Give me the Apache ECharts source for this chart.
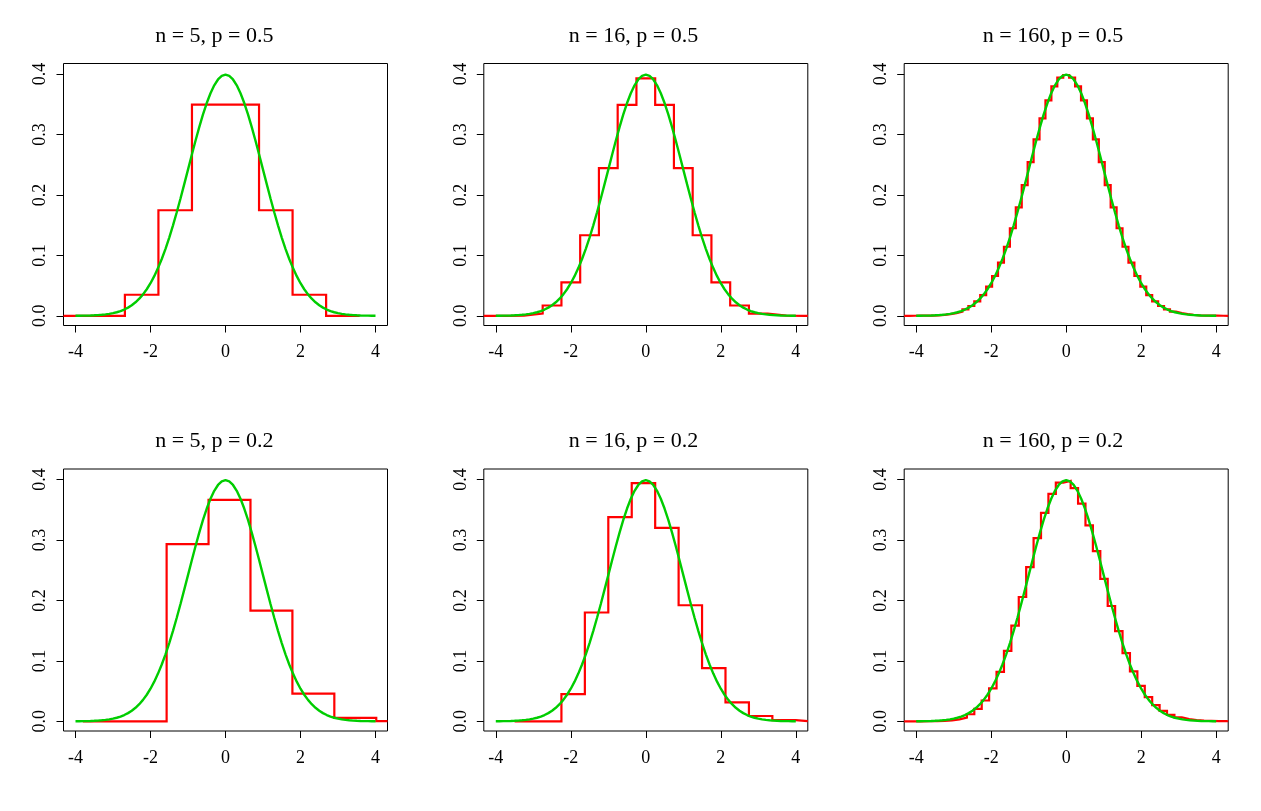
<!DOCTYPE html>
<html><head><meta charset="utf-8">
<script src="https://cdn.jsdelivr.net/npm/echarts@6/dist/echarts.min.js"></script>
<style>html,body{margin:0;padding:0;background:#fff}#c{width:1261px;height:811px}</style>
</head><body><div id="c"></div>
<script>
// ---- data ----
const titles = ['n = 5, p = 0.5', 'n = 16, p = 0.5', 'n = 160, p = 0.5',
                'n = 5, p = 0.2', 'n = 16, p = 0.2', 'n = 160, p = 0.2'];
const xTicks = [-4, -2, 0, 2, 4];
const yTicks = [0, 0.1, 0.2, 0.3, 0.4];

// normal density curve (green)
const curveX = [-4,-3.9,-3.8,-3.7,-3.6,-3.5,-3.4,-3.3,-3.2,-3.1,-3,-2.9,-2.8,-2.7,-2.6,-2.5,-2.4,-2.3,-2.2,-2.1,-2,
  -1.9,-1.8,-1.7,-1.6,-1.5,-1.4,-1.3,-1.2,-1.1,-1,-0.9,-0.8,-0.7,-0.6,-0.5,-0.4,-0.3,-0.2,-0.1,0,
  0.1,0.2,0.3,0.4,0.5,0.6,0.7,0.8,0.9,1,1.1,1.2,1.3,1.4,1.5,1.6,1.7,1.8,1.9,2,
  2.1,2.2,2.3,2.4,2.5,2.6,2.7,2.8,2.9,3,3.1,3.2,3.3,3.4,3.5,3.6,3.7,3.8,3.9,4];
const curveY = [0.00013,0.00020,0.00029,0.00042,0.00061,0.00087,0.00123,0.00172,0.00238,0.00327,0.00443,
  0.00595,0.00792,0.01042,0.01358,0.01753,0.02239,0.02833,0.03547,0.04398,0.05399,
  0.06562,0.07895,0.09405,0.11092,0.12952,0.14973,0.17137,0.19419,0.21785,0.24197,
  0.26609,0.28969,0.31225,0.33322,0.35207,0.36827,0.38139,0.39104,0.39695,0.39894,
  0.39695,0.39104,0.38139,0.36827,0.35207,0.33322,0.31225,0.28969,0.26609,0.24197,
  0.21785,0.19419,0.17137,0.14973,0.12952,0.11092,0.09405,0.07895,0.06562,0.05399,
  0.04398,0.03547,0.02833,0.02239,0.01753,0.01358,0.01042,0.00792,0.00595,0.00443,
  0.00327,0.00238,0.00172,0.00123,0.00087,0.00061,0.00042,0.00029,0.00020,0.00013];

// step heights (red), one value per bar, left to right
const steps1 = [0,0,0.0349,0.1747,0.3494,0.3494,0.1747,0.0349,0];
const steps2 = [0,0,0.00003,0.00049,0.00366,0.0171,0.0555,0.1333,0.2444,0.3491,0.3928,0.3491,0.2444,0.1333,0.0555,0.0171,0.00366,0.00049,0.00003,0];
const steps3 = [0.00004,0.0001,0.0002,0.0003,0.0005,0.0009,0.0016,0.0027,0.0044,0.0069,0.0108,0.0163,0.0240,0.0344,0.0482,0.0659,0.0879,0.1143,0.1449,0.1793,0.2162,0.2544,0.2919,0.3266,0.3565,0.3795,0.3940,
  0.3985,
  0.3940,0.3795,0.3565,0.3266,0.2919,0.2544,0.2162,0.1793,0.1449,0.1143,0.0879,0.0659,0.0482,0.0344,0.0240,0.0163,0.0108,0.0069,0.0044,0.0027,0.0016,0.0009,0.0005,0.0003,0.0002,0.0001,0.00004];
const steps4 = [0,0,0.2931,0.3664,0.1832,0.0458,0.0057,0.0003,0];
const steps5 = [0,0,0.0450,0.1801,0.3378,0.3941,0.3202,0.1921,0.0881,0.0315,0.0088,0.0020,0.0003,0.00005,0,0,0,0,0,0];
const steps6 = [0.00001,0.00001,0.00004,0.0001,0.0003,0.0007,0.0015,0.0032,0.0063,0.0117,0.0207,0.0345,0.0544,0.0817,0.1165,0.1585,0.2057,0.2553,0.3031,0.3449,0.3765,0.3948,
  0.3979,0.3858,0.3603,0.3242,0.2815,0.2358,0.1908,0.1492,0.1129,0.0826,0.0585,0.0401,0.0267,0.0172,0.0107,0.0065,0.0038,0.0022,0.0012,0.0007,0.0003,0.0002,0.0001];
// x of the left edge of the first bar, and bar width (data units)
const stepStart = [-4.472, -5.25, -4.348, -3.806, -3.5, -4.427];
const stepWidth = [0.8944, 0.5, 0.15811, 1.118, 0.625, 0.19764];

// ---- layout / style ----
const FONT = 'Liberation Serif';
const X_MIN = -4.32, X_MAX = 4.32;
const boxLeft = [63.5, 483.8, 904.2];
const boxTop = [63.5, 469];
const boxW = 324, boxH = 262;
const titleCenter = [214.3, 633.5, 1053];
const titleTop = [25, 430.5];

const allSteps = [steps1, steps2, steps3, steps4, steps5, steps6];

// build the step outline; ends that fall outside the plot box are clipped to it
function stepPoints(h, start, w) {
  const clampX = x => Math.max(X_MIN, Math.min(X_MAX, x));
  const pts = [];
  for (let i = 0; i < h.length; i++) {
    const a = start + i * w, b = start + (i + 1) * w;
    if (b < X_MIN || a > X_MAX) continue;
    pts.push([clampX(a), h[i]], [clampX(b), h[i]]);
  }
  return pts;
}
const curvePts = curveX.map((x, i) => [x, curveY[i]]);

const grid = [], xAxis = [], yAxis = [], series = [], title = [];
for (let i = 0; i < 6; i++) {
  const col = i % 3, row = Math.floor(i / 3);
  grid.push({left: boxLeft[col], top: boxTop[row], width: boxW, height: boxH,
    show: true, borderColor: '#000', borderWidth: 1, backgroundColor: 'transparent',
    containLabel: false, outerBoundsMode: 'none'});
  xAxis.push({type: 'value', gridIndex: i, min: X_MIN, max: X_MAX, position: 'bottom',
    axisLine: {show: false, onZero: false}, splitLine: {show: false},
    axisTick: {show: true, customValues: xTicks, length: 7, lineStyle: {color: '#000', width: 1}},
    axisLabel: {customValues: xTicks, margin: 18, fontFamily: FONT, fontSize: 18, color: '#000',
      formatter: v => String(v)}});
  yAxis.push({type: 'value', gridIndex: i, min: -0.016, max: 0.4175, position: 'left',
    axisLine: {show: false, onZero: false}, splitLine: {show: false},
    axisTick: {show: true, customValues: yTicks, length: 7, lineStyle: {color: '#000', width: 1}},
    axisLabel: {customValues: yTicks, rotate: 90, margin: 14, fontFamily: FONT, fontSize: 18, color: '#000',
      formatter: v => Number(v).toFixed(1)}});
  series.push({type: 'line', xAxisIndex: i, yAxisIndex: i,
    data: stepPoints(allSteps[i], stepStart[i], stepWidth[i]),
    symbol: 'none', showSymbol: false, clip: true, silent: true, z: 2,
    lineStyle: {color: '#FF0000', width: 2.2, join: 'miter', cap: 'butt'}});
  series.push({type: 'line', xAxisIndex: i, yAxisIndex: i, data: curvePts,
    symbol: 'none', showSymbol: false, clip: true, silent: true, z: 3,
    lineStyle: {color: '#00CD00', width: 2.4}});
  title.push({text: titles[i], left: titleCenter[col], top: titleTop[row],
    textAlign: 'center', textVerticalAlign: 'top', padding: 0,
    textStyle: {fontFamily: FONT, fontSize: 22, fontWeight: 'normal', color: '#000'}});
}

const chart = echarts.init(document.getElementById('c'), null, {renderer: 'canvas'});
chart.setOption({animation: false, backgroundColor: '#fff', title, grid, xAxis, yAxis, series});
</script>
</body></html>
